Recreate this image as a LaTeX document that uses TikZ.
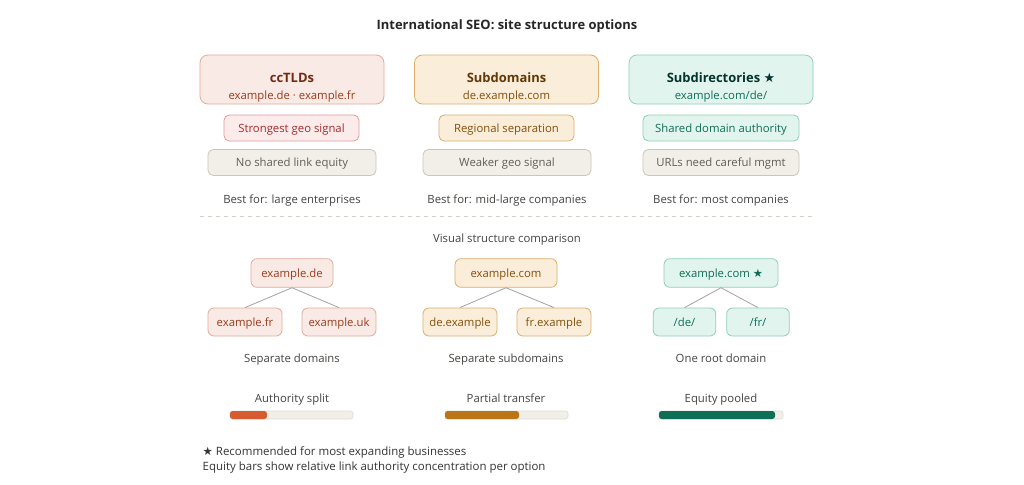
\documentclass[tikz,border=0pt]{standalone}
\usepackage{fontspec}
\setmainfont{Open Sans}
\newfontfamily\symf{DejaVu Sans}
\newcommand\starsym{{\symf\char"2605}}
\definecolor{redfill}{HTML}{FAEAE5}
\definecolor{reddraw}{HTML}{E2AB9B}
\definecolor{redtitle}{HTML}{712B13}
\definecolor{redsub}{HTML}{993C1D}
\definecolor{pinkfill}{HTML}{FCEBEB}
\definecolor{pinkdraw}{HTML}{E59A9A}
\definecolor{pinktext}{HTML}{A32D2D}
\definecolor{grayfill}{HTML}{F1EFE8}
\definecolor{graydraw}{HTML}{C9C6BC}
\definecolor{graytext}{HTML}{5F5E5A}
\definecolor{ambfill}{HTML}{FAEEDA}
\definecolor{ambdraw}{HTML}{DDAE6E}
\definecolor{ambtitle}{HTML}{633806}
\definecolor{ambsub}{HTML}{854F0B}
\definecolor{grnfill}{HTML}{E1F5EE}
\definecolor{grndraw}{HTML}{8FD0B8}
\definecolor{grntitle}{HTML}{04342C}
\definecolor{grnsub}{HTML}{0F6E56}
\definecolor{txtgray}{HTML}{444441}
\definecolor{linegray}{HTML}{A5A39C}
\definecolor{barred}{HTML}{D85A30}
\definecolor{baramb}{HTML}{BA7517}
\definecolor{bargrn}{HTML}{0F6E56}
\tikzset{
  base/.style={font=\fontsize{8.5}{10.5}\selectfont, text height=7.2pt, text depth=0.8pt},
  head/.style={font=\fontsize{9.7}{12}\selectfont\bfseries, text height=8pt, text depth=1pt},
  topbox/.style={draw, line width=0.6pt, rounded corners=6pt, minimum width=138pt, minimum height=36.75pt, inner sep=0pt},
  pill/.style={draw, line width=0.6pt, rounded corners=4pt, minimum height=19.5pt, inner sep=0pt, base},
  treebox/.style={draw, line width=0.6pt, rounded corners=4.5pt, minimum height=21.5pt, inner sep=0pt, base},
  lbl/.style={text=txtgray, base},
  redbox/.style={fill=redfill, draw=reddraw, text=redsub},
  ambbox/.style={fill=ambfill, draw=ambdraw, text=ambsub},
  grnbox/.style={fill=grnfill, draw=grndraw, text=grnsub},
  pinkpill/.style={pill, fill=pinkfill, draw=pinkdraw, text=pinktext},
  graypill/.style={pill, fill=grayfill, draw=graydraw, text=graytext},
  tline/.style={draw=linegray, line width=0.6pt},
  barbg/.style={fill=grayfill, draw=graydraw!60, line width=0.5pt, rounded corners=2pt},
}
\begin{document}
\begin{tikzpicture}[x=0.75pt,y=-0.75pt]
\useasboundingbox[fill=white] (0,0) rectangle (1024,485);

\node[head, text=black!85] (title) at (507,24.5) {International SEO: site structure options};

% top boxes
\node[topbox, redbox] (cc) at (292,79.5) {};
\node[head, text=redtitle] (ccT) at (292,77.5) {ccTLDs};
\node[base, text=redsub] (ccS) at (292,95.5) {example.de · example.fr};

\node[topbox, ambbox] (sd) at (506.5,79.5) {};
\node[head, text=ambtitle] (sdT) at (506.5,77.5) {Subdomains};
\node[base, text=ambsub] (sdS) at (506.5,95.5) {de.example.com};

\node[topbox, grnbox] (dir) at (721,79.5) {};
\node[head, text=grntitle] (dirT) at (721,77.5) {Subdirectories \starsym};
\node[base, text=grnsub] (dirS) at (721,95.5) {example.com/de/};

% pills
\node[pinkpill, minimum width=101.25pt] (p1) at (291.5,128) {Strongest geo signal};
\node[graypill, minimum width=126pt] (p2) at (292,162.5) {No shared link equity};
\node[pill, fill=ambfill, draw=ambdraw, text=ambsub, minimum width=101.25pt] (p3) at (506.5,128) {Regional separation};
\node[graypill, minimum width=126pt] (p4) at (507,162.5) {Weaker geo signal};
\node[pill, fill=grnfill, draw=grndraw, text=grnsub, minimum width=117pt] (p5) at (721,128) {Shared domain authority};
\node[graypill, minimum width=117pt] (p6) at (721,162.5) {URLs need careful mgmt};

\node[lbl] (b1) at (292,199) {Best for: large enterprises};
\node[lbl] (b2) at (507,199) {Best for: mid-large companies};
\node[lbl] (b3) at (721,199) {Best for: most companies};

\coordinate (dl) at (200,216);
\coordinate (dr) at (812,216);
\draw[draw=graydraw!80, line width=0.6pt, dash pattern=on 3pt off 3pt] (dl) -- (dr);

\node[lbl] (vis) at (507,238) {Visual structure comparison};

% trees
\node[treebox, redbox, minimum width=61.5pt] (r1) at (292,273) {example.de};
\node[treebox, redbox, minimum width=55.5pt, minimum height=21pt] (c11) at (245,322) {example.fr};
\node[treebox, redbox, minimum width=55.5pt, minimum height=21pt] (c12) at (339,322) {example.uk};
\draw[tline] (r1.south) -- (c11.north);
\draw[tline] (r1.south) -- (c12.north);

\node[treebox, ambbox, minimum width=76.5pt] (r2) at (506,273) {example.com};
\node[treebox, ambbox, minimum width=55.5pt, minimum height=21pt] (c21) at (460,322) {de.example};
\node[treebox, ambbox, minimum width=55.5pt, minimum height=21pt] (c22) at (554,322) {fr.example};
\draw[tline] (r2.south) -- (c21.north);
\draw[tline] (r2.south) -- (c22.north);

\node[treebox, grnbox, minimum width=85.5pt] (r3) at (721,273) {example.com \starsym};
\node[treebox, grnbox, minimum width=47pt, minimum height=21pt] (c31) at (684.5,322) {/de/};
\node[treebox, grnbox, minimum width=47pt, minimum height=21pt] (c32) at (758,322) {/fr/};
\draw[tline] (r3.south) -- (c31.north);
\draw[tline] (r3.south) -- (c32.north);

\node[lbl] (s1) at (292,358) {Separate domains};
\node[lbl] (s2) at (506,358) {Separate subdomains};
\node[lbl] (s3) at (721,358) {One root domain};

\node[lbl] (e1) at (292,398) {Authority split};
\node[lbl] (e2) at (506,398) {Partial transfer};
\node[lbl] (e3) at (721,398) {Equity pooled};

% bars
\path[barbg] (230,411) rectangle (353,419);
\path[fill=barred, rounded corners=2pt] (230,411) rectangle (267,419);
\path[barbg] (445,411) rectangle (568,419);
\path[fill=baramb, rounded corners=2pt] (445,411) rectangle (519,419);
\path[barbg] (659,411) rectangle (783,419);
\path[fill=bargrn, rounded corners=2pt] (659,411) rectangle (775,419);

\node[lbl, anchor=west, text=black!80, font=\fontsize{8.6}{10.5}\selectfont] (n1) at (198,451.5) {\starsym\ Recommended for most expanding businesses};
\node[lbl, anchor=west, text=black!80, font=\fontsize{8.6}{10.5}\selectfont] (n2) at (198,466.5) {Equity bars show relative link authority concentration per option};
\end{tikzpicture}
\end{document}
